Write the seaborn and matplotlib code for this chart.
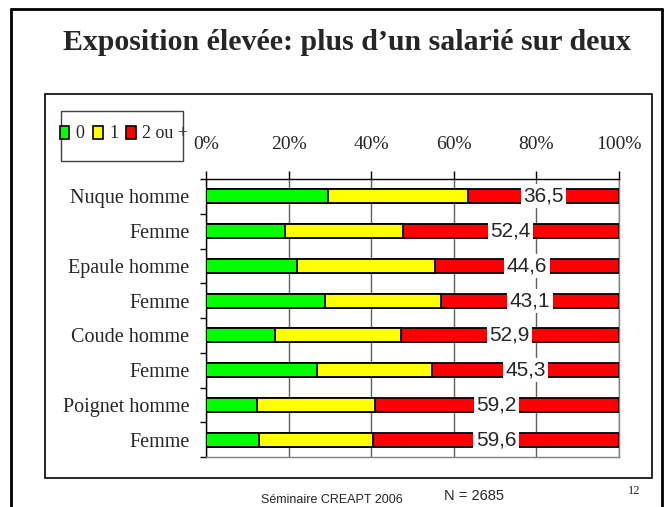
import matplotlib
matplotlib.use("Agg")
import matplotlib.pyplot as plt
import seaborn as sns
import pandas as pd
from matplotlib.patches import Rectangle, Patch
from matplotlib.lines import Line2D
from matplotlib.ticker import FixedLocator

# Body regions (top to bottom) and share of employees by number of exposures
categories = ["Nuque homme", "Femme", "Epaule homme", "Femme",
              "Coude homme", "Femme", "Poignet homme", "Femme"]
exp_0 = [29.6, 19.1, 22.0, 28.8, 16.7, 26.9, 12.3, 12.9]
exp_1 = [33.9, 28.5, 33.4, 28.1, 30.4, 27.8, 28.5, 27.5]
exp_2plus = [36.5, 52.4, 44.6, 43.1, 52.9, 45.3, 59.2, 59.6]
legend_labels = ["0", "1", "2 ou +"]
x_ticks = [0, 20, 40, 60, 80, 100]
x_tick_labels = ["0%", "20%", "40%", "60%", "80%", "100%"]

GREEN, YELLOW, RED = "#00FF00", "#FFFF00", "#FF0000"
SERIF = "Liberation Serif"
SANS = "Liberation Sans"

sns.set_style("white")
plt.rcParams["font.family"] = [SERIF, "DejaVu Serif"]

df = pd.DataFrame({"pos": range(len(categories)),
                   "g": exp_0, "y": exp_1, "r": exp_2plus})
df["gy"] = df["g"] + df["y"]
df["total"] = df["gy"] + df["r"]

fig = plt.figure(figsize=(6.7, 5.07), dpi=100)
W, H = 670, 507
ax = fig.add_axes([206 / W, 1 - 457 / H, 413 / W, 278 / H])

# stacked bars drawn as cumulative layers
common = dict(orient="h", width=0.4, edgecolor="black", linewidth=1.3,
              errorbar=None, ax=ax, zorder=3)
sns.barplot(data=df, x="total", y="pos", color=RED, saturation=1, **common)
sns.barplot(data=df, x="gy", y="pos", color=YELLOW, saturation=1, **common)
sns.barplot(data=df, x="g", y="pos", color=GREEN, saturation=1, **common)

ax.set_xlim(0, 100)
ax.set_ylim(len(categories) - 0.5, -0.5)
ax.set_xlabel("")
ax.set_ylabel("")

# value labels for the "2 ou +" segment
for i, row in df.iterrows():
    ax.text(row["gy"] + row["r"] / 2, i, f"{row['r']:.1f}".replace(".", ","),
            ha="center", va="center", fontsize=15, family=SANS,
            bbox=dict(boxstyle="square,pad=0.12", fc="white", ec="none"),
            zorder=10)

# x axis on top
ax.xaxis.tick_top()
ax.set_xticks(x_ticks)
ax.set_xticklabels(x_tick_labels, fontsize=14, family=SERIF)
ax.tick_params(axis="x", which="major", direction="out", length=6,
               width=1, color="black", pad=13, top=True, bottom=False)
ax.xaxis.grid(True, color="#606060", linewidth=1)
ax.yaxis.grid(False)
ax.set_axisbelow(True)

# y axis: labels at bar centres, ticks between rows
ax.set_yticks(range(len(categories)))
ax.set_yticklabels(categories, fontsize=14.5, family=SERIF)
ax.yaxis.set_minor_locator(FixedLocator([k - 0.5 for k in range(len(categories) + 1)]))
ax.tick_params(axis="y", which="major", length=0, pad=12)
ax.tick_params(axis="y", which="minor", direction="out", length=4.5,
               width=1, color="black", left=True)

for side in ["left", "top"]:
    ax.spines[side].set_visible(True)
    ax.spines[side].set_color("black")
    ax.spines[side].set_linewidth(1)
for side in ["bottom", "right"]:
    ax.spines[side].set_visible(True)
    ax.spines[side].set_color("#808080")
    ax.spines[side].set_linewidth(1)

# legend
handles = [Patch(facecolor=c, edgecolor="black", linewidth=1.2)
           for c in (GREEN, YELLOW, RED)]
fig.legend(handles, legend_labels, loc="center",
           bbox_to_anchor=(124 / W, 1 - 134 / H), ncol=3, frameon=False,
           prop={"family": SERIF, "size": 13}, handlelength=0.55,
           handleheight=0.75, handletextpad=0.35, columnspacing=0.45,
           borderpad=0, borderaxespad=0)
fig.add_artist(Rectangle((61 / W, 1 - 161 / H), 122 / W, 50 / H,
                         transform=fig.transFigure, fill=False,
                         edgecolor="#404040", linewidth=1))

# chart frame
fig.add_artist(Rectangle((45 / W, 1 - 478 / H), 607 / W, 384 / H,
                         transform=fig.transFigure, fill=False,
                         edgecolor="black", linewidth=1.2))

# slide border
for xs in (11, 662):
    fig.add_artist(Line2D([xs / W, xs / W], [0, 1 - 9 / H],
                          transform=fig.transFigure, color="black", linewidth=2))
fig.add_artist(Line2D([11 / W, 662 / W], [1 - 9 / H, 1 - 9 / H],
                      transform=fig.transFigure, color="black", linewidth=2))

# title and footer
fig.text(347 / W, 1 - 43 / H, "Exposition élevée: plus d’un salarié sur deux",
         ha="center", va="center", fontsize=21.5, fontweight="bold", family=SERIF)
fig.text(332 / W, 1 - 500 / H, "Séminaire CREAPT 2006", ha="center",
         va="center", fontsize=9, family=SANS)
fig.text(474 / W, 1 - 496 / H, "N = 2685", ha="center", va="center",
         fontsize=10.5, family=SANS)
fig.text(634 / W, 1 - 491 / H, "12", ha="center", va="center",
         fontsize=9, family=SERIF)

fig.savefig("out.png", dpi=100)
